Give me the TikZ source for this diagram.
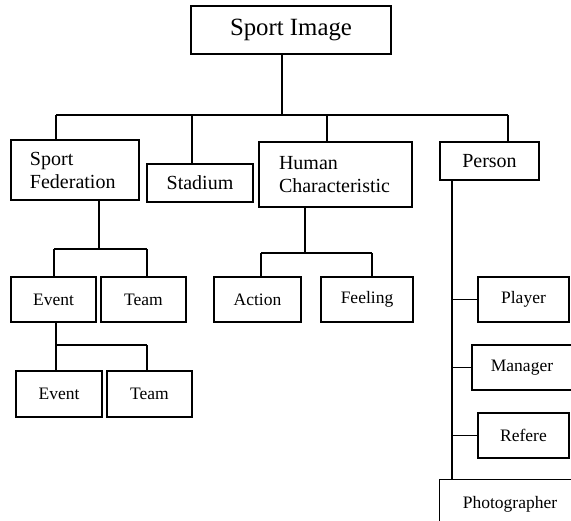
\documentclass[tikz,border=0pt]{standalone}
\usepackage{fontspec}
\setmainfont{Liberation Serif}
\begin{document}
\begin{tikzpicture}[x=1pt,y=-1pt,
  box/.style={draw, line width=1.7pt, inner sep=0pt, font=\fontsize{17.5}{20}\selectfont},
  bigbox/.style={box, font=\fontsize{20}{23}\selectfont},
  conn/.style={line width=1.6pt}]
\useasboundingbox (0,0) rectangle (571,521);
% nodes
\node[box, font=\fontsize{24.8}{28}\selectfont, minimum width=200pt, minimum height=48pt] (top) at (291,30) {Sport Image};
\node[bigbox, minimum width=128pt, minimum height=60pt, text width=90pt, align=left] (fed) at (75,170) {Sport\\Federation};
\node[bigbox, minimum width=106pt, minimum height=38pt, text depth=1pt] (stad) at (200,183) {Stadium};
\node[bigbox, minimum width=153pt, minimum height=65pt, text width=113pt, align=left] (hum) at (335.5,174.5) {Human\\Characteristic};
\node[bigbox, minimum width=99pt, minimum height=38pt] (pers) at (489.5,161) {Person};
\node[box, minimum width=85pt, minimum height=45pt] (ev1) at (53.5,299.5) {Event};
\node[box, minimum width=85pt, minimum height=45pt] (tm1) at (143.5,299.5) {Team};
\node[box, minimum width=87pt, minimum height=45pt] (act) at (257.5,299.5) {Action};
\node[box, minimum width=92pt, minimum height=45pt] (feel) at (367,299.5) {Feeling};
\node[box, minimum width=86pt, minimum height=46pt] (ev2) at (59,394) {Event};
\node[box, minimum width=85pt, minimum height=46pt] (tm2) at (149.5,394) {Team};
\node[box, minimum width=91pt, minimum height=45pt] (play) at (523.5,299.5) {Player};
\node[box, minimum width=100pt, minimum height=45pt] (man) at (522,367.5) {Manager};
\node[box, minimum width=91pt, minimum height=45pt] (ref) at (523.5,435.5) {Refere};
\node[box, line width=0.9pt, minimum width=142pt, minimum height=50pt] (phot) at (510,504) {Photographer};
% junction coordinates
\coordinate (b0) at (282,115);
\coordinate (b1) at (56,115);
\coordinate (b2) at (192,115);
\coordinate (b3) at (327,115);
\coordinate (b4) at (508,115);
\coordinate (f0) at (99,249);
\coordinate (f1) at (54,249);
\coordinate (f2) at (147,249);
\coordinate (e0) at (56,345);
\coordinate (e2) at (147,345);
\coordinate (h0) at (305,253);
\coordinate (h1) at (261,253);
\coordinate (h2) at (372,253);
\coordinate (p0) at (452,180);
% connectors
\draw[conn] (top.south -| b0) -- (b0);
\draw[conn] (b1) -- (b4);
\draw[conn] (b1) -- (b1 |- fed.north);
\draw[conn] (b2) -- (b2 |- stad.north);
\draw[conn] (b3) -- (b3 |- hum.north);
\draw[conn] (b4) -- (b4 |- pers.north);
\draw[conn] (fed.south -| f0) -- (f0);
\draw[conn] (f1) -- (f2);
\draw[conn] (f1) -- (f1 |- ev1.north);
\draw[conn] (f2) -- (f2 |- tm1.north);
\draw[conn] (ev1.south -| e0) -- (e0) -- (e2);
\draw[conn] (e0) -- (e0 |- ev2.north);
\draw[conn] (e2) -- (e2 |- tm2.north);
\draw[conn] (hum.south -| h0) -- (h0);
\draw[conn] (h1) -- (h2);
\draw[conn] (h1) -- (h1 |- act.north);
\draw[conn] (h2) -- (h2 |- feel.north);
\draw[conn] (pers.south -| p0) -- (p0 |- phot.north);
\draw[conn] (play.west -| p0) -- (play.west);
\draw[conn] (man.west -| p0) -- (man.west);
\draw[conn] (ref.west -| p0) -- (ref.west);
\end{tikzpicture}
\end{document}
